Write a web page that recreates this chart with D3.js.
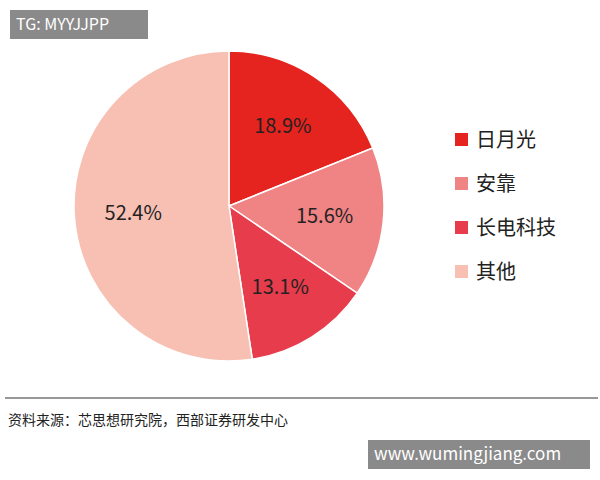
<!DOCTYPE html>
<html><head><meta charset="utf-8">
<script src="https://cdn.jsdelivr.net/npm/d3@7"></script>
<style>body{margin:0;background:#fff}</style>
</head><body>
<svg id="c" width="600" height="480"></svg>
<script>
var labels = ["日月光", "安靠", "长电科技", "其他"];
var values = [18.9, 15.6, 13.1, 52.4];
var colors = ["#e5231f", "#f08383", "#e63c4b", "#f7c0b3"];

var svg = d3.select("#c");
var font = "'Noto Sans CJK SC', 'Noto Sans', sans-serif";
var cx = 229, cy = 206, r = 155;

var pie = d3.pie().sort(null).value(function(d){ return d; });
var arc = d3.arc().innerRadius(0).outerRadius(r);
var labelArc = d3.arc().innerRadius(r*0.62).outerRadius(r*0.62);
var g = svg.append("g").attr("transform", "translate(" + cx + "," + cy + ")");
var arcs = pie(values);
g.selectAll("path").data(arcs).enter().append("path")
  .attr("d", arc).attr("fill", function(d,i){ return colors[i]; })
  .attr("stroke", "#fff").attr("stroke-width", 1.5);
g.selectAll("text").data(arcs).enter().append("text")
  .attr("transform", function(d){ return "translate(" + labelArc.centroid(d) + ")"; })
  .attr("text-anchor", "middle").attr("dy", "0.35em")
  .style("font-family", font).style("font-size", "20px").attr("fill", "#222")
  .text(function(d){ return d.data.toFixed(1) + "%"; });

// legend
var y = d3.scalePoint().domain(labels).range([140, 272]);
var lg = svg.selectAll(".lg").data(labels).enter().append("g")
  .attr("transform", function(d){ return "translate(455," + y(d) + ")"; });
lg.append("rect").attr("x", 0).attr("y", -7).attr("width", 13).attr("height", 13)
  .attr("fill", function(d,i){ return colors[i]; });
lg.append("text").attr("x", 21).attr("dy", "0.35em")
  .style("font-family", font).style("font-size", "20px").attr("fill", "#222")
  .text(function(d){ return d; });

// footer
svg.append("line").attr("x1", 5).attr("x2", 598).attr("y1", 398).attr("y2", 398)
  .attr("stroke", "#333").attr("stroke-width", 1.2);
svg.append("text").attr("x", 8).attr("y", 425)
  .style("font-family", font).style("font-size", "14px").attr("fill", "#222")
  .text("资料来源：芯思想研究院，西部证券研发中心");

// watermarks
svg.append("rect").attr("x", 10).attr("y", 10).attr("width", 138).attr("height", 29).attr("fill", "#8a8a8a");
svg.append("text").attr("x", 16).attr("y", 30).style("font-family", font).style("font-size", "16px")
  .attr("fill", "#fff").text("TG: MYYJJPP");
svg.append("rect").attr("x", 368).attr("y", 440).attr("width", 222).attr("height", 29).attr("fill", "#8a8a8a");
svg.append("text").attr("x", 374).attr("y", 460).style("font-family", font).style("font-size", "17px")
  .attr("fill", "#fff").text("www.wumingjiang.com");
</script>
</body></html>
